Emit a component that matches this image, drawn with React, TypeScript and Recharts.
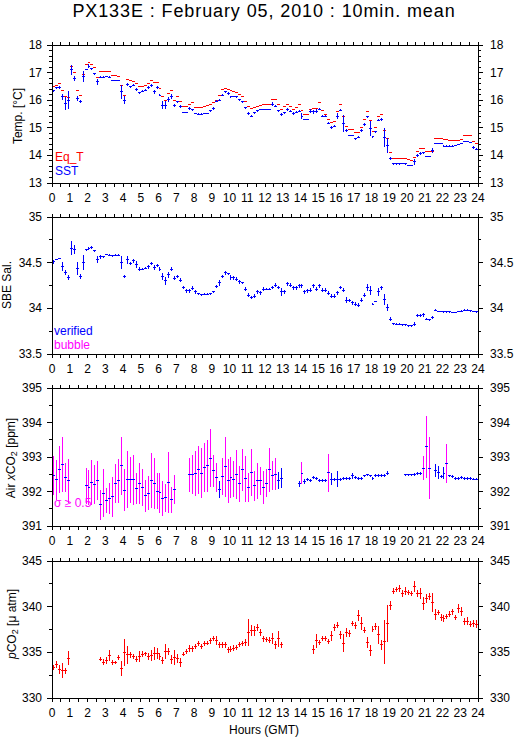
import { ComposedChart, Scatter, ErrorBar, XAxis, YAxis } from 'recharts';

const BLUE = '#0000ff';
const RED = '#ff0000';
const MAGENTA = '#ff00ff';
const FONT = '"Liberation Sans", Arial, Helvetica, sans-serif';

// 10-min bins, 144 per day (bin i covers i*10 .. i*10+10 min)
const hourLabels = [0, 1, 2, 3, 4, 5, 6, 7, 8, 9, 10, 11, 12, 13, 14, 15, 16, 17, 18, 19, 20, 21, 22, 23, 24];

const eqT = [
  16.5, 16.55, 16.6, 16.36, 16.12, 16.1, 17.23, 17.0, 16.36, 16.17,
  16.93, 17.29, 17.36, 17.3, 17.18, 16.84, 17.03, 17.05, 17.05, 17.03,
  16.9, 16.88, 16.86, 16.54, 16.18, 16.75, 16.72, 16.69, 16.6, 16.48,
  16.5, 16.52, 16.6, 16.7, 16.65, 16.63, 16.42, 16.12, 16.0, 16.24,
  16.36, 16.0, 16.12, 15.94, 15.76, 15.78, 15.85, 15.9, 15.72, 15.72,
  15.72, 15.76, 15.8, 15.84, 15.9, 16.0, 16.18, 16.38, 16.44, 16.4,
  16.36, 16.33, 16.28, 16.2, 16.12, 15.94, 15.76, 15.7, 15.72, 15.78,
  15.8, 15.86, 15.86, 15.86, 16.02, 16.02, 15.86, 15.68, 15.78, 15.86,
  15.78, 15.68, 15.72, 15.86, 15.64, 15.48, 15.48, 15.68, 15.7, 15.7,
  15.9, 15.64, 15.5, 15.3, 15.2, 15.22, 15.6, 15.86, 15.42, 15.06,
  14.94, 14.94, 14.82, 14.84, 15.0, 15.3, 15.6, 15.27, 14.85, 15.0,
  15.42, 15.48, 14.9, 14.6, 14.09, 13.89, 13.89, 13.89, 13.89, 13.89,
  13.86, 13.83, 13.93, 14.13, 14.25, 14.25, 14.13, 14.13, 14.13, 14.63,
  14.6, 14.63, 14.57, 14.57, 14.53, 14.53, 14.55, 14.55, 14.57, 14.72,
  14.72, 14.72, 14.5, 14.42,
];

const sst = [
  16.34, 16.45, 16.46, 16.12, 15.88, 16.0, 17.11, 16.78, 16.06, 15.96,
  16.85, 17.1, 17.23, 17.14, 16.96, 16.66, 16.84, 16.84, 16.86, 16.84,
  16.7, 16.7, 16.7, 16.3, 16.0, 16.57, 16.48, 16.54, 16.39, 16.27,
  16.33, 16.36, 16.46, 16.53, 16.3, 16.46, 16.18, 15.82, 15.82, 16.02,
  16.14, 15.82, 15.94, 15.76, 15.55, 15.55, 15.7, 15.65, 15.52, 15.5,
  15.5, 15.52, 15.52, 15.62, 15.7, 15.96, 16.0, 16.18, 16.3, 16.24,
  16.12, 16.12, 16.12, 16.02, 15.94, 15.73, 15.52, 15.42, 15.54, 15.62,
  15.66, 15.66, 15.66, 15.66, 15.86, 15.78, 15.61, 15.49, 15.54, 15.66,
  15.6, 15.52, 15.56, 15.6, 15.42, 15.3, 15.3, 15.6, 15.58, 15.6,
  15.68, 15.42, 15.42, 15.16, 15.01, 15.06, 15.42, 15.64, 15.16, 14.9,
  14.73, 14.73, 14.6, 14.66, 14.9, 15.12, 15.4, 14.98, 14.67, 14.85,
  15.27, 15.3, 14.65, 14.37, 13.89, 13.69, 13.69, 13.69, 13.7, 13.69,
  13.65, 13.65, 13.77, 14.0, 14.07, 14.09, 13.96, 13.96, 14.18, 14.43,
  14.43, 14.43, 14.34, 14.34, 14.34, 14.34, 14.36, 14.38, 14.43, 14.5,
  14.5, 14.48, 14.29, 14.23,
];

const sstErr = [
  0.04, 0.03, 0.04, 0.1, 0.24, 0.33, 0.18, 0.1, 0.08, 0.06,
  0.2, 0.02, 0.08, 0.04, 0.04, 0.1, 0.02, 0.02, 0.02, 0.02,
  0.02, 0.02, 0.02, 0.25, 0.15, 0.04, 0.04, 0.04, 0.04, 0.04,
  0.04, 0.03, 0.04, 0.04, 0.06, 0.04, 0.04, 0.15, 0.15, 0.1,
  0.08, 0.06, 0.04, 0.06, 0.02, 0.02, 0.04, 0.04, 0.02, 0.02,
  0.02, 0.02, 0.02, 0.04, 0.04, 0.04, 0.04, 0.04, 0.04, 0.04,
  0.03, 0.02, 0.03, 0.04, 0.04, 0.04, 0.04, 0.04, 0.04, 0.04,
  0.02, 0.02, 0.02, 0.02, 0.06, 0.04, 0.04, 0.06, 0.04, 0.04,
  0.04, 0.04, 0.04, 0.04, 0.1, 0.02, 0.02, 0.08, 0.08, 0.08,
  0.04, 0.03, 0.03, 0.04, 0.04, 0.04, 0.1, 0.04, 0.3, 0.04,
  0.02, 0.02, 0.04, 0.04, 0.04, 0.04, 0.04, 0.28, 0.04, 0.04,
  0.04, 0.04, 0.33, 0.27, 0.04, 0.02, 0.02, 0.02, 0.02, 0.02,
  0.02, 0.02, 0.1, 0.04, 0.04, 0.04, 0.02, 0.02, 0.1, 0.03,
  0.02, 0.02, 0.02, 0.02, 0.02, 0.02, 0.02, 0.02, 0.02, 0.02,
  0.02, 0.02, 0.06, 0.04,
];

const salinity = [
  34.51, 34.535, 34.545, 34.46, 34.39, 34.34, 34.66, 34.64, 34.44, 34.35,
  34.5, 34.64, 34.655, 34.665, 34.63, 34.535, 34.565, 34.565, 34.59, 34.58,
  34.575, 34.58, 34.58, 34.5, 34.35, 34.53, 34.49, 34.52, 34.48, 34.43,
  34.43, 34.44, 34.455, 34.49, 34.445, 34.47, 34.43, 34.35, 34.3, 34.365,
  34.43, 34.33, 34.35, 34.31, 34.23, 34.19, 34.19, 34.22, 34.18, 34.16,
  34.15, 34.155, 34.155, 34.16, 34.18, 34.24, 34.28, 34.35, 34.39, 34.38,
  34.335, 34.335, 34.32, 34.29, 34.28, 34.21, 34.145, 34.12, 34.135, 34.18,
  34.17, 34.21, 34.21, 34.21, 34.23, 34.255, 34.23, 34.18, 34.18, 34.27,
  34.255, 34.225, 34.225, 34.245, 34.245, 34.18, 34.19, 34.2, 34.245, 34.21,
  34.245, 34.2, 34.2, 34.165, 34.135, 34.135, 34.17, 34.23, 34.2, 34.09,
  34.085, 34.06, 34.045, 34.035, 34.09, 34.145, 34.23, 34.2, 34.045, 34.075,
  34.18, 34.225, 34.1, 34.01, 33.88, 33.83, 33.825, 33.825, 33.82, 33.82,
  33.81, 33.81, 33.825, 33.92, 33.92, 33.93, 33.88, 33.875, 33.9, 33.98,
  33.965, 33.965, 33.96, 33.96, 33.96, 33.955, 33.955, 33.965, 33.97, 33.98,
  33.98, 33.975, 33.965, 33.96,
];

const salErr = [
  0.02, 0.01, 0.01, 0.05, 0.03, 0.03, 0.08, 0.05, 0.07, 0.03,
  0.08, 0.01, 0.02, 0.02, 0.01, 0.04, 0.02, 0.01, 0.01, 0.01,
  0.01, 0.01, 0.01, 0.07, 0.02, 0.04, 0.02, 0.02, 0.04, 0.02,
  0.01, 0.01, 0.02, 0.02, 0.03, 0.02, 0.02, 0.04, 0.04, 0.03,
  0.02, 0.02, 0.02, 0.02, 0.02, 0.02, 0.02, 0.02, 0.02, 0.01,
  0.01, 0.01, 0.01, 0.01, 0.01, 0.02, 0.03, 0.02, 0.02, 0.01,
  0.03, 0.02, 0.02, 0.02, 0.01, 0.02, 0.02, 0.02, 0.02, 0.02,
  0.02, 0.02, 0.01, 0.01, 0.02, 0.02, 0.02, 0.04, 0.02, 0.02,
  0.02, 0.02, 0.02, 0.02, 0.02, 0.02, 0.02, 0.02, 0.02, 0.02,
  0.02, 0.02, 0.02, 0.02, 0.02, 0.02, 0.02, 0.02, 0.02, 0.03,
  0.02, 0.02, 0.02, 0.02, 0.02, 0.02, 0.04, 0.05, 0.01, 0.01,
  0.04, 0.02, 0.06, 0.04, 0.02, 0.01, 0.01, 0.01, 0.01, 0.01,
  0.01, 0.01, 0.02, 0.02, 0.02, 0.02, 0.01, 0.01, 0.02, 0.01,
  0.01, 0.01, 0.01, 0.01, 0.01, 0.01, 0.01, 0.01, 0.01, 0.01,
  0.01, 0.01, 0.01, 0.01,
];

const airXco2 = [
  392.46, 392.34, 392.65, 392.79, 392.41, 392.31, null, null, null, null,
  null, 392.16, 392.12, 392.27, 392.21, 392.31, 391.61, 391.95, 391.73, 391.8,
  391.85, 392.24, 392.31, 392.74, 392.04, 392.34, 392.34, 392.34, 392.1, 392.24,
  392.12, 391.87, 391.95, 392.31, 392.24, 392.01, 391.97, 391.8, 391.82, 392.26,
  391.76, 392.05, null, null, null, null, 392.48, 392.5, 392.53, 392.63,
  392.53, 392.7, 392.74, 392.97, 392.6, 392.41, 392.05, 392.43, 392.72, 392.31,
  392.41, 392.36, 392.48, 392.22, 392.63, 392.37, 392.12, 392.55, 392.16, 392.31,
  392.31, 392.12, 392.24, 392.63, 392.45, 392.5, 392.32, 392.38, null, null,
  null, null, null, 392.22, 392.53, 392.29, 392.34, 392.32, 392.4, 392.38,
  392.32, 392.32, 392.32, 392.55, 392.36, 392.34, 392.36, 392.34, 392.38, 392.38,
  392.38, 392.45, 392.41, 392.38, 392.38, 392.45, 392.48, 392.45, 392.38, 392.46,
  392.46, 392.46, 392.46, 392.53, null, null, null, null, null, 392.48,
  392.48, 392.48, 392.5, 392.53, 392.53, 392.68, 393.29, 392.68, null, 392.6,
  392.55, 392.43, 392.53, 392.82, 392.45, 392.43, 392.38, 392.38, 392.41, 392.38,
  392.38, 392.38, 392.36, 392.36,
];

const airErr = [
  0.56, 0.58, 0.68, 0.8, 0.41, 0.64, 0, 0, 0, 0,
  0, 0.51, 0.5, 0.65, 0.56, 0.57, 0.44, 0.69, 0.36, 0.46,
  0.58, 0.56, 0.63, 0.83, 0.6, 0.82, 0.66, 0.73, 0.45, 0.59,
  0.53, 0.45, 0.49, 0.8, 0.74, 0.52, 0.58, 0.51, 0.4, 0.89,
  0.37, 0.42, 0, 0, 0, 0, 0.48, 0.57, 0.65, 0.7,
  0.72, 0.7, 0.75, 0.84, 0.46, 0.41, 0.24, 0.53, 0.87, 0.63,
  0.6, 0.52, 0.71, 0.51, 0.61, 0.66, 0.41, 0.69, 0.43, 0.52,
  0.4, 0.48, 0.4, 0.63, 0.42, 0.47, 0.24, 0.29, 0, 0,
  0, 0, 0, 0.08, 0.32, 0.06, 0.04, 0.04, 0.05, 0.04,
  0.05, 0.04, 0.05, 0.55, 0.17, 0.04, 0.24, 0.04, 0.04, 0.04,
  0.04, 0.08, 0.04, 0.04, 0.04, 0.04, 0.04, 0.04, 0.04, 0.04,
  0.04, 0.04, 0.04, 0.05, 0, 0, 0, 0, 0, 0.03,
  0.03, 0.03, 0.04, 0.04, 0.04, 0.35, 0.9, 0.89, 0, 0.19,
  0.18, 0.04, 0.17, 0.57, 0.04, 0.04, 0.04, 0.04, 0.04, 0.04,
  0.04, 0.04, 0.04, 0.04,
];

const pco2 = [
  333.34, 333.7, 333.09, 332.98, 332.98, 334.36, null, null, null, null,
  null, null, null, null, null, null, 334.25, 333.92, 334.07, 334.61,
  333.88, 333.88, 334.43, 333.2, 335.0, 334.72, 334.72, 334.54, 334.25, 334.54,
  334.8, 334.83, 334.54, 334.61, 334.83, 334.83, 334.54, 334.07, 335.08, 335.08,
  334.25, 334.43, 334.36, 333.92, 334.8, 335.08, 335.45, 335.37, 335.63, 335.99,
  335.63, 335.99, 335.99, 336.25, 336.54, 336.25, 335.81, 335.81, 335.81, 335.27,
  335.34, 335.45, 335.52, 335.88, 335.99, 336.1, 337.15, 337.34, 337.34, 337.7,
  337.15, 336.46, 336.43, 336.35, 336.54, 335.81, 336.46, 335.81, null, null,
  null, null, null, null, null, null, null, null, 335.34, 336.25,
  336.1, 336.54, 336.54, 336.17, 336.79, 337.7, 337.99, 336.9, 335.99, 337.19,
  337.08, 338.17, 337.92, 339.08, 338.17, 337.44, 336.1, 335.19, 337.55, 337.81,
  336.9, 335.81, 336.17, 338.17, 340.17, 341.7, 341.9, 342.0, 341.44, 341.7,
  341.55, 341.44, 342.17, 341.44, 341.44, 340.35, 340.9, 341.08, 340.46, 339.15,
  339.37, 338.82, 338.72, 338.9, 339.19, 339.44, 338.82, 339.8, 339.44, 338.35,
  338.43, 338.1, 338.17, 338.1,
];

const pco2Err = [
  0.3, 0.4, 0.5, 0.8, 0.3, 0.8, 0, 0, 0, 0,
  0, 0, 0, 0, 0, 0, 0.2, 0.3, 0.4, 0.6,
  0.3, 0.2, 0.3, 0.8, 1.5, 1.0, 0.3, 0.3, 0.3, 0.6,
  0.3, 0.2, 0.4, 0.6, 0.7, 0.6, 0.4, 0.4, 0.8, 0.4,
  0.5, 0.8, 0.5, 0.5, 0.2, 0.3, 0.4, 0.3, 0.3, 0.3,
  0.3, 0.3, 0.2, 0.3, 0.3, 0.5, 0.3, 0.3, 0.3, 0.3,
  0.3, 0.3, 0.3, 0.3, 0.3, 0.4, 1.5, 0.6, 0.5, 0.4,
  0.4, 0.3, 0.3, 0.3, 0.6, 0.4, 0.9, 0.3, 0, 0,
  0, 0, 0, 0, 0, 0, 0, 0, 0.5, 0.8,
  0.3, 0.3, 0.3, 0.3, 0.5, 0.4, 0.3, 0.4, 1.0, 0.5,
  0.4, 0.3, 0.4, 0.6, 0.7, 0.3, 0.6, 0.6, 0.3, 0.4,
  1.0, 0.5, 2.4, 2.0, 0.5, 0.3, 0.3, 0.4, 0.4, 0.4,
  0.3, 0.3, 0.6, 0.4, 0.6, 0.7, 0.5, 0.4, 1.0, 0.6,
  0.3, 0.4, 0.4, 0.3, 0.3, 0.3, 0.3, 0.5, 0.5, 0.4,
  0.4, 0.3, 0.4, 0.4,
];

const tempMajor = [13, 14, 15, 16, 17, 18];
const salMajor = [33.5, 34, 34.5, 35];
const airMajor = [391, 392, 393, 394, 395];
const pco2Major = [330, 335, 340, 345];

// air samples with large spread get magenta error bars
const AIR_FLAG = 0.3;

type Row = { x: number; y: number; e: number; xe: number };

function toRows(vals: (number | null)[], errs?: number[]): Row[] {
  const out: Row[] = [];
  vals.forEach((v, i) => {
    if (v == null) return;
    out.push({ x: (i + 0.5) / 6, y: v, e: errs ? errs[i] : 0, xe: 1 / 12 });
  });
  return out;
}

const eqRows = toRows(eqT);
const sstRows = toRows(sst, sstErr);
const salRows = toRows(salinity, salErr);
const airRows = toRows(airXco2, airErr);
const airFlagRows = airRows.filter((r) => r.e >= AIR_FLAG);
const airOkRows = airRows.filter((r) => r.e < AIR_FLAG);
const pco2Rows = toRows(pco2, pco2Err);

const xTicks = hourLabels.flatMap((h) => (h < 24 ? [h, h + 0.5] : [h]));

function stepTicks(lo: number, hi: number, step: number) {
  const n = Math.round((hi - lo) / step);
  return Array.from({ length: n + 1 }, (_, k) => +(lo + k * step).toFixed(4));
}

const isIn = (list: number[], v: number) => list.some((m) => Math.abs(m - v) < 1e-6);

const noDot = () => <g />;

const bottomTick = (p: any) => {
  const v = p.payload.value;
  return (
    <g>
      <line x1={p.x} x2={p.x} y1={p.y} y2={p.y + 4} stroke="#000" />
      {Number.isInteger(v) && (
        <text x={p.x} y={p.y + 15} textAnchor="middle" dominantBaseline="central" fontSize={12} fontFamily={FONT} fill="#000">
          {v}
        </text>
      )}
    </g>
  );
};

const topTick = (p: any) => <line x1={p.x} x2={p.x} y1={p.y} y2={p.y - 3} stroke="#000" />;

const leftTick = (major: number[]) => (p: any) => {
  const v = p.payload.value;
  const big = isIn(major, v);
  return (
    <g>
      <line x1={p.x - (big ? 5 : 3)} x2={p.x} y1={p.y} y2={p.y} stroke="#000" />
      {big && (
        <text x={p.x - 10} y={p.y} textAnchor="end" dominantBaseline="central" fontSize={12} fontFamily={FONT} fill="#000">
          {v}
        </text>
      )}
    </g>
  );
};

const rightTick = (major: number[]) => (p: any) => {
  const v = p.payload.value;
  const big = isIn(major, v);
  return (
    <g>
      <line x1={p.x} x2={p.x + (big ? 5 : 3)} y1={p.y} y2={p.y} stroke="#000" />
      {big && (
        <text x={p.x + 12} y={p.y} textAnchor="start" dominantBaseline="central" fontSize={12} fontFamily={FONT} fill="#000">
          {v}
        </text>
      )}
    </g>
  );
};

interface PanelProps {
  top: number;
  plotH: number;
  domain: [number, number];
  major: number[];
  minor: number;
  children: any;
}

function Panel({ top, plotH, domain, major, minor, children }: PanelProps) {
  const yTicks = stepTicks(domain[0], domain[1], minor);
  const axisCommon = {
    tickSize: 0,
    tickMargin: 0,
    tickLine: false,
    axisLine: { stroke: '#000' },
    interval: 0 as const,
    allowDataOverflow: true,
  };
  return (
    <div style={{ position: 'absolute', left: 0, top: top - 10 }}>
      <ComposedChart width={515} height={plotH + 34} margin={{ top: 0, right: 0, bottom: 0, left: 0 }}>
        <XAxis xAxisId="b" dataKey="x" type="number" domain={[0, 24]} ticks={xTicks} orientation="bottom" height={24} tick={bottomTick} {...axisCommon} />
        <XAxis xAxisId="t" dataKey="x" type="number" domain={[0, 24]} ticks={xTicks} orientation="top" height={10} tick={topTick} {...axisCommon} />
        <YAxis yAxisId="l" dataKey="y" type="number" domain={domain} ticks={yTicks} orientation="left" width={52} tick={leftTick(major)} {...axisCommon} />
        <YAxis yAxisId="r" dataKey="y" type="number" domain={domain} ticks={yTicks} orientation="right" width={37} tick={rightTick(major)} {...axisCommon} />
        {children}
      </ComposedChart>
    </div>
  );
}

function series(rows: Row[], color: string, key: string, showY: boolean, showX: boolean, yColor?: string) {
  return (
    <Scatter key={key} name={key} data={rows} xAxisId="b" yAxisId="l" shape={noDot} isAnimationActive={false}>
      {showY && <ErrorBar dataKey="e" direction="y" width={0} stroke={yColor || color} strokeWidth={1} isAnimationActive={false} />}
      {showX && <ErrorBar dataKey="xe" direction="x" width={0} stroke={color} strokeWidth={1} isAnimationActive={false} />}
    </Scatter>
  );
}

export default function App() {
  return (
    <div style={{ position: 'absolute', left: 0, top: 0, width: 515, height: 739, background: '#fff', fontFamily: FONT }}>
      <style>{'svg line { shape-rendering: crispEdges; }'}</style>

      <Panel top={45} plotH={138} domain={[13, 18]} major={tempMajor} minor={0.2}>
        {series(eqRows, RED, 'Eq_T', false, true)}
        {series(sstRows, BLUE, 'SST', true, true)}
      </Panel>

      <Panel top={217} plotH={137} domain={[33.5, 35]} major={salMajor} minor={0.25}>
        {series(salRows, BLUE, 'verified', true, true)}
      </Panel>

      <Panel top={388} plotH={138} domain={[391, 395]} major={airMajor} minor={0.5}>
        {series(airFlagRows, BLUE, 'flagged', true, false, MAGENTA)}
        {series(airOkRows, BLUE, 'ok', true, false)}
        {series(airRows, BLUE, 'air', false, true)}
      </Panel>

      <Panel top={561} plotH={137} domain={[330, 345]} major={pco2Major} minor={2.5}>
        {series(pco2Rows, RED, 'pCO2', true, true)}
      </Panel>

      <svg width={515} height={739} style={{ position: 'absolute', left: 0, top: 0, pointerEvents: 'none' }} fontFamily={FONT}>
        <text x={264} y={17} textAnchor="middle" fontSize={18} letterSpacing={0.9} fill="#000">
          PX133E : February 05, 2010 : 10min. mean
        </text>

        <text transform="translate(18,116) rotate(-90)" textAnchor="middle" dominantBaseline="central" fontSize={12} fill="#000">
          Temp. [°C]
        </text>
        <text transform="translate(7,285) rotate(-90)" textAnchor="middle" dominantBaseline="central" fontSize={12} fill="#000">
          SBE Sal.
        </text>
        <text transform="translate(11,458) rotate(-90)" textAnchor="middle" dominantBaseline="central" fontSize={12} fill="#000">
          Air <tspan fontStyle="italic">x</tspan>CO<tspan fontSize={9} dy={3}>2</tspan>
          <tspan dy={-3}> [ppm]</tspan>
        </text>
        <text transform="translate(12,624) rotate(-90)" textAnchor="middle" dominantBaseline="central" fontSize={12} fill="#000">
          <tspan fontStyle="italic">p</tspan>CO<tspan fontSize={9} dy={3}>2</tspan>
          <tspan dy={-3}> [μ atm]</tspan>
        </text>

        <text x={55} y={157} dominantBaseline="central" fontSize={12} fill={RED}>Eq_T</text>
        <text x={55} y={171} dominantBaseline="central" fontSize={12} fill={BLUE}>SST</text>
        <text x={54} y={331} dominantBaseline="central" fontSize={12} fill={BLUE}>verified</text>
        <text x={54} y={345} dominantBaseline="central" fontSize={12} fill={MAGENTA}>bubble</text>
        <text x={54} y={503} dominantBaseline="central" fontSize={12} fill={MAGENTA}>σ ≥ 0.5</text>

        <text x={264} y={730} textAnchor="middle" dominantBaseline="central" fontSize={12} fill="#000">
          Hours (GMT)
        </text>
      </svg>
    </div>
  );
}
